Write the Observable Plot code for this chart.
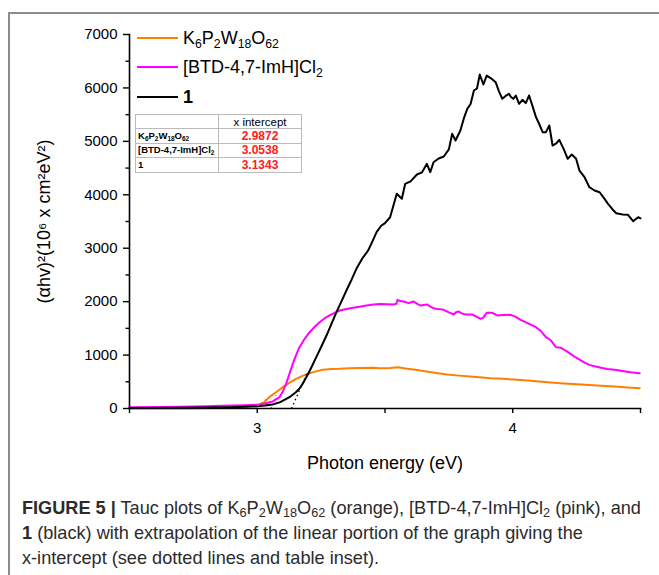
<!DOCTYPE html>
<html><head><meta charset="utf-8">
<script src="https://cdn.jsdelivr.net/npm/d3@7"></script>
<script src="https://cdn.jsdelivr.net/npm/@observablehq/plot@0.6"></script>
<style>
body{margin:0;background:#fff;}
#wrap{position:relative;width:659px;height:575px;overflow:hidden;font-family:"Liberation Sans",Arial,sans-serif;color:#000;}
#frame{position:absolute;left:8px;top:12px;width:800px;height:800px;border-left:2px solid #8c8c8c;border-top:2px solid #8c8c8c;}
#chart{position:absolute;left:0;top:0;}
#chart g[aria-label="y-axis label"], #chart g[aria-label="x-axis label"]{font-size:18px;}
.legrow{position:absolute;left:137px;height:24px;display:flex;align-items:center;font-size:18px;white-space:nowrap;}
.legrow .sw{width:41px;height:2px;margin-right:5px;}
sub{font-size:0.68em;vertical-align:-0.35em;line-height:0;}
#tbl{position:absolute;left:135px;top:114px;border-collapse:collapse;border:1.5px solid #666;font-family:"Liberation Sans",Arial,sans-serif;}
#tbl td{border:1px solid #bbb;height:13.4px;padding:0 2px;line-height:12px;}
#tbl td.c1{width:78px;font-weight:bold;font-size:9.5px;}
#tbl td.c2{width:78px;text-align:center;}
#tbl td.val{color:#ff2020;font-weight:bold;font-size:12px;}
#tbl td.hd{font-size:11.5px;}
#caption{position:absolute;left:22px;top:495px;width:700px;font-family:"Liberation Sans",Arial,sans-serif;font-size:19px;line-height:25px;color:#2b2b2b;white-space:nowrap;transform:scaleX(0.955);transform-origin:0 0;}
#caption sub{font-size:0.7em;vertical-align:-0.25em;}
</style></head>
<body>
<div id="wrap">
  <div id="frame"></div>
  <div id="chart"></div>
  <div id="legend"></div>
  <table id="tbl"></table>
  <div id="caption"><b>FIGURE 5 |</b> Tauc plots of K<sub>6</sub>P<sub>2</sub>W<sub>18</sub>O<sub>62</sub> (orange), [BTD-4,7-ImH]Cl<sub>2</sub> (pink), and<br><b>1</b> (black) with extrapolation of the linear portion of the graph giving the<br>x-intercept (see dotted lines and table inset).</div>
</div>
<script>
// ---- data (photon energy eV, (αhν)² in 10^6 cm^-2 eV^2) ----
const orangeCurve = [[2.50,4],[2.60,5],[2.70,7],[2.80,10],[2.90,20],[2.95,32],[2.98,45],[3.008,60],[3.03,130],[3.047,212],[3.075,310],[3.10,400],[3.125,480],[3.152,555],[3.18,615],[3.205,661],[3.23,695],[3.257,724],[3.29,738],[3.323,742],[3.36,752],[3.40,760],[3.454,761],[3.48,755],[3.52,758],[3.551,774],[3.58,750],[3.611,730],[3.65,700],[3.70,665],[3.743,636],[3.78,620],[3.822,605],[3.87,585],[3.913,568],[3.96,555],[4.005,543],[4.07,518],[4.137,493],[4.20,470],[4.268,449],[4.33,430],[4.399,412],[4.45,395],[4.497,380]];
const pinkCurve = [[2.50,22],[2.60,28],[2.70,35],[2.80,43],[2.90,55],[2.95,62],[3.00,72],[3.03,95],[3.06,130],[3.087,212],[3.10,320],[3.113,462],[3.126,650],[3.139,836],[3.152,1000],[3.165,1147],[3.185,1300],[3.205,1428],[3.225,1530],[3.244,1615],[3.263,1685],[3.283,1741],[3.303,1790],[3.323,1834],[3.35,1862],[3.375,1884],[3.40,1905],[3.428,1928],[3.455,1945],[3.48,1955],[3.51,1950],[3.533,1947],[3.545,1960],[3.549,2034],[3.56,2010],[3.573,2003],[3.592,1972],[3.611,2003],[3.625,1965],[3.638,1928],[3.664,1947],[3.68,1900],[3.697,1866],[3.715,1860],[3.73,1847],[3.75,1800],[3.769,1759],[3.778,1800],[3.789,1815],[3.80,1780],[3.815,1759],[3.841,1759],[3.858,1720],[3.874,1678],[3.885,1700],[3.898,1790],[3.92,1790],[3.94,1741],[3.965,1750],[3.992,1753],[4.01,1720],[4.031,1660],[4.064,1585],[4.091,1522],[4.11,1450],[4.13,1335],[4.15,1272],[4.169,1147],[4.189,1136],[4.205,1090],[4.222,1035],[4.245,960],[4.268,898],[4.285,850],[4.30,817],[4.32,790],[4.346,761],[4.37,740],[4.399,724],[4.43,700],[4.46,680],[4.497,661]];
const blackCurve = [[2.50,8],[2.60,10],[2.70,13],[2.80,17],[2.90,24],[2.95,32],[3.00,42],[3.03,55],[3.06,75],[3.09,120],[3.126,212],[3.15,300],[3.165,370],[3.18,480],[3.198,636],[3.215,800],[3.231,961],[3.25,1150],[3.271,1366],[3.29,1580],[3.31,1803],[3.33,2010],[3.349,2208],[3.37,2420],[3.388,2615],[3.41,2800],[3.434,2957],[3.45,3120],[3.467,3300],[3.485,3420],[3.50,3470],[3.52,3580],[3.546,4018],[3.566,3925],[3.579,4205],[3.60,4250],[3.625,4380],[3.645,4420],[3.664,4580],[3.677,4423],[3.69,4610],[3.71,4680],[3.73,4716],[3.75,4850],[3.763,5141],[3.776,5016],[3.795,5203],[3.81,5450],[3.822,5609],[3.835,5700],[3.848,5952],[3.86,5990],[3.871,6251],[3.885,6064],[3.898,6232],[3.915,6180],[3.933,6107],[3.945,5950],[3.959,5796],[3.972,5850],[3.985,5890],[3.993,5830],[4.002,5796],[4.012,5858],[4.025,5703],[4.038,5778],[4.051,5715],[4.064,5858],[4.078,5650],[4.091,5453],[4.104,5320],[4.117,5172],[4.13,5172],[4.143,5297],[4.156,4922],[4.17,4960],[4.182,5028],[4.20,4850],[4.215,4673],[4.231,4754],[4.248,4673],[4.261,4454],[4.281,4329],[4.30,4142],[4.32,4080],[4.34,4048],[4.355,3950],[4.373,3830],[4.39,3730],[4.405,3655],[4.43,3630],[4.451,3625],[4.471,3505],[4.491,3580],[4.50,3560]];

const seriesNames = ["K<sub>6</sub>P<sub>2</sub>W<sub>18</sub>O<sub>62</sub>", "[BTD-4,7-ImH]Cl<sub>2</sub>", "<b>1</b>"];
const seriesColors = ["#ff8000", "#ff00ff", "#000000"];
const xIntercepts = [2.9872, 3.0538, 3.1343];
const fitSlopes = [3600, 12000, 11000];   // slope of linear fit (per eV)
const fitTops = [300, 250, 680];          // value where the dotted fit meets the curve

const yTicks = [0, 1000, 2000, 3000, 4000, 5000, 6000, 7000];
const yMinor = [500, 1500, 2500, 3500, 4500, 5500, 6500];
const xTicks = [3, 4];
const xMinor = [2.5, 3.5, 4.5];
const xLabel = "Photon energy (eV)";
const yLabel = "(αhv)²(10⁶ x cm²eV²)";

const fits = xIntercepts.map((x0, i) => ({x1: x0, y1: 0, x2: x0 + fitTops[i] / fitSlopes[i], y2: fitTops[i], c: seriesColors[i]}));
const curves = [orangeCurve, pinkCurve, blackCurve];

const chart = Plot.plot({
  width: 659, height: 480,
  marginLeft: 129, marginRight: 19, marginTop: 34, marginBottom: 72,
  style: {fontFamily: "Liberation Sans, Arial, sans-serif", color: "#000", background: "transparent", overflow: "visible"},
  x: {domain: [2.5, 4.5]},
  y: {domain: [0, 7000]},
  marks: [
    ...curves.map((c, i) => Plot.line(c, {x: d => d[0], y: d => d[1], stroke: seriesColors[i], strokeWidth: 2})),
    Plot.link(fits, {x1: "x1", y1: "y1", x2: "x2", y2: "y2", stroke: "c", strokeWidth: 1.3, strokeDasharray: "1.5,3"}),
    Plot.frame({anchor: "left", stroke: "#000", strokeWidth: 1.6}),
    Plot.frame({anchor: "bottom", stroke: "#000", strokeWidth: 1.6}),
    Plot.axisY(yTicks, {tickSize: 6, tickPadding: 6, fontSize: 15, strokeWidth: 1.4, tickFormat: d => String(d), label: yLabel, labelArrow: "none", labelAnchor: "center", labelOffset: 92}),
    Plot.axisY(yMinor, {tickSize: 3.5, strokeWidth: 1.4, tickFormat: () => "", label: null}),
    Plot.axisX(xTicks, {tickSize: 5, tickPadding: 9, fontSize: 15, strokeWidth: 1.4, tickFormat: d => String(d), label: xLabel, labelArrow: "none", labelAnchor: "center", labelOffset: 60}),
    Plot.axisX(xMinor, {tickSize: 5, strokeWidth: 1.4, tickFormat: () => "", label: null})
  ]
});
document.getElementById("chart").appendChild(chart);

// legend
const legendTops = [26, 55, 85];
const leg = document.getElementById("legend");
seriesNames.forEach((n, i) => {
  const r = document.createElement("div");
  r.className = "legrow";
  r.style.top = legendTops[i] + "px";
  r.innerHTML = `<span class="sw" style="background:${seriesColors[i]}"></span><span>${n}</span>`;
  leg.appendChild(r);
});

// table inset
const tbl = document.getElementById("tbl");
let html = `<tr><td class="c1"></td><td class="c2 hd">x intercept</td></tr>`;
seriesNames.forEach((n, i) => {
  html += `<tr><td class="c1">${n.replace(/<\/?b>/g, "")}</td><td class="c2 val">${xIntercepts[i].toFixed(4)}</td></tr>`;
});
tbl.innerHTML = html;
</script>
</body></html>
